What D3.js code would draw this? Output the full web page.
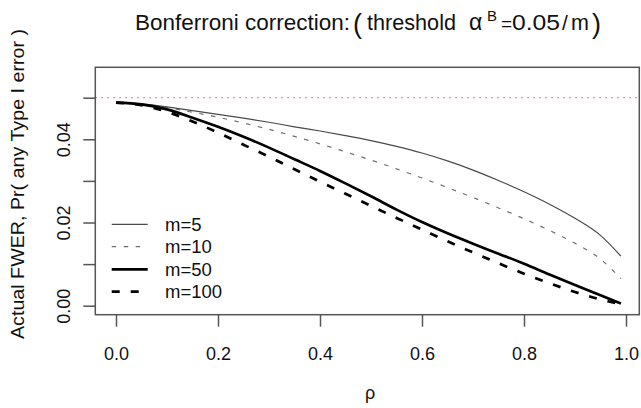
<!DOCTYPE html>
<html><head><meta charset="utf-8">
<script src="https://cdn.jsdelivr.net/npm/d3@7"></script>
<style>
html,body{margin:0;padding:0;background:#fff;}
svg{display:block;font-family:"Liberation Sans",Arial,Helvetica,sans-serif;}
</style></head>
<body>
<svg id="chart" width="641" height="408"></svg>
<script>
// ---- data ----
const rho      = [0,0.05,0.1,0.15,0.2,0.25,0.3,0.35,0.4,0.45,0.5,0.55,0.6,0.65,0.7,0.75,0.8,0.85,0.9,0.95,0.99];
const fwerM5   = [0.0488,0.0485,0.0478,0.0469,0.0460,0.0451,0.0441,0.0430,0.0420,0.0409,0.0397,0.0383,0.0367,0.0348,0.0326,0.0301,0.0274,0.0244,0.0210,0.0169,0.0119];
const fwerM10  = [0.0488,0.0484,0.0476,0.0465,0.0453,0.0439,0.0424,0.0407,0.0389,0.0370,0.0350,0.0329,0.0307,0.0284,0.0260,0.0235,0.0209,0.0181,0.0150,0.0112,0.0065];
const fwerM50  = [0.0488,0.0484,0.0472,0.0452,0.0430,0.0406,0.0380,0.0352,0.0324,0.0294,0.0263,0.0231,0.0201,0.0174,0.0149,0.0125,0.0101,0.0075,0.0050,0.0025,0.0005];
const fwerM100 = [0.0488,0.0482,0.0466,0.0443,0.0416,0.0387,0.0358,0.0328,0.0298,0.0269,0.0240,0.0211,0.0183,0.0155,0.0128,0.0102,0.0077,0.0054,0.0033,0.0015,0.0004];
const seriesLabels = ["m=5","m=10","m=50","m=100"];
const xTicks = [0,0.2,0.4,0.6,0.8,1.0];
const xTickLabels = ["0.0","0.2","0.4","0.6","0.8","1.0"];
const yTicks = [0,0.01,0.02,0.03,0.04,0.05];
const yTickLabels = ["0.00","","0.02","","0.04",""];
const nominalAlpha = 0.05;

// ---- styles ----
const styles = [
  {stroke:"#4a4a4a", width:1.2, dash:null},
  {stroke:"#6e6e6e", width:1.2, dash:"4.5,7.5"},
  {stroke:"#000",    width:2.7, dash:null},
  {stroke:"#000",    width:2.7, dash:"8,11"}
];
const seriesValues = [fwerM5, fwerM10, fwerM50, fwerM100];

const svg = d3.select("#chart");
const box = {left:95.3, right:639.3, top:67.3, bottom:314.7};
const x = d3.scaleLinear().domain([0,1]).range([116,626]);
const y = d3.scaleLinear().domain([0,0.05]).range([305.7,97.7]);

// threshold line
svg.append("line")
  .attr("x1",box.left).attr("x2",box.right)
  .attr("y1",y(nominalAlpha)).attr("y2",y(nominalAlpha))
  .attr("stroke","#f07a7a").attr("stroke-width",1.3)
  .attr("stroke-dasharray","1.6,4.4");

// curves
const line = d3.line().x((d,i)=>x(rho[i])).y(d=>y(d)).curve(d3.curveMonotoneX);
seriesValues.forEach((vals,k)=>{
  svg.append("path").datum(vals)
    .attr("d",line).attr("fill","none")
    .attr("stroke",styles[k].stroke)
    .attr("stroke-width",styles[k].width)
    .attr("stroke-dasharray",styles[k].dash);
});

// box
svg.append("rect")
  .attr("x",box.left).attr("y",box.top)
  .attr("width",box.right-box.left).attr("height",box.bottom-box.top)
  .attr("fill","none").attr("stroke","#555").attr("stroke-width",1.5);

// x axis
const xAxis = d3.axisBottom(x).tickValues(xTicks).tickSize(12)
  .tickFormat((d,i)=>xTickLabels[i]);
const gx = svg.append("g").attr("transform",`translate(0,${box.bottom})`).call(xAxis);
gx.select(".domain").remove();
gx.selectAll(".tick line").attr("stroke","#555").attr("stroke-width",1.5);
gx.selectAll(".tick text").attr("font-size",18).attr("fill","#111")
  .attr("dy",null).attr("y",45.5);

// y axis
const yAxis = d3.axisLeft(y).tickValues(yTicks).tickSize(12)
  .tickFormat((d,i)=>yTickLabels[i]);
const gy = svg.append("g").attr("transform",`translate(${box.left},0)`).call(yAxis);
gy.select(".domain").remove();
gy.selectAll(".tick line").attr("stroke","#555").attr("stroke-width",1.5);
gy.selectAll(".tick text").attr("font-size",18).attr("fill","#111")
  .attr("x",null).attr("dy",null)
  .attr("text-anchor","middle")
  .attr("transform","translate(-25.5,0) rotate(-90)");

// axis titles
svg.append("text").attr("x",370).attr("y",399).attr("text-anchor","middle")
  .attr("font-size",18).attr("fill","#111").text("ρ");
svg.append("text").attr("transform","translate(23.5,184) rotate(-90)")
  .attr("text-anchor","middle").attr("font-size",18.5).attr("fill","#111")
  .attr("textLength",310).attr("lengthAdjust","spacingAndGlyphs")
  .text("Actual FWER, Pr( any Type I error )");

// title
const t = svg.append("g").attr("fill","#111");
t.append("text").attr("x",135).attr("y",30).attr("font-size",21.5)
  .attr("textLength",215).attr("lengthAdjust","spacingAndGlyphs").text("Bonferroni correction:");
t.append("text").attr("x",353).attr("y",33).attr("font-size",27).text("(");
t.append("text").attr("x",367).attr("y",30).attr("font-size",21.5)
  .attr("textLength",89).attr("lengthAdjust","spacingAndGlyphs").text("threshold");
t.append("text").attr("x",469).attr("y",30).attr("font-size",23).text("α");
t.append("text").attr("x",487).attr("y",21).attr("font-size",15).text("B");
t.append("text").attr("x",501).attr("y",30).attr("font-size",19).text("=");
t.append("text").attr("x",512).attr("y",30).attr("font-size",21.5)
  .attr("textLength",48).attr("lengthAdjust","spacingAndGlyphs").text("0.05");
t.append("text").attr("x",562).attr("y",30).attr("font-size",21).text("/");
t.append("text").attr("x",571).attr("y",30).attr("font-size",21.5).text("m");
t.append("text").attr("x",592).attr("y",33).attr("font-size",27).text(")");

// legend
const legY = [224.3,246.7,269.3,291.7];
seriesLabels.forEach((lab,k)=>{
  svg.append("line").attr("x1",111.7).attr("x2",147.7)
    .attr("y1",legY[k]).attr("y2",legY[k])
    .attr("stroke",styles[k].stroke).attr("stroke-width",styles[k].width)
    .attr("stroke-dasharray",styles[k].dash);
  svg.append("text").attr("x",165).attr("y",legY[k]+6.5)
    .attr("font-size",18.5).attr("fill","#111").text(lab);
});
</script>
</body></html>
